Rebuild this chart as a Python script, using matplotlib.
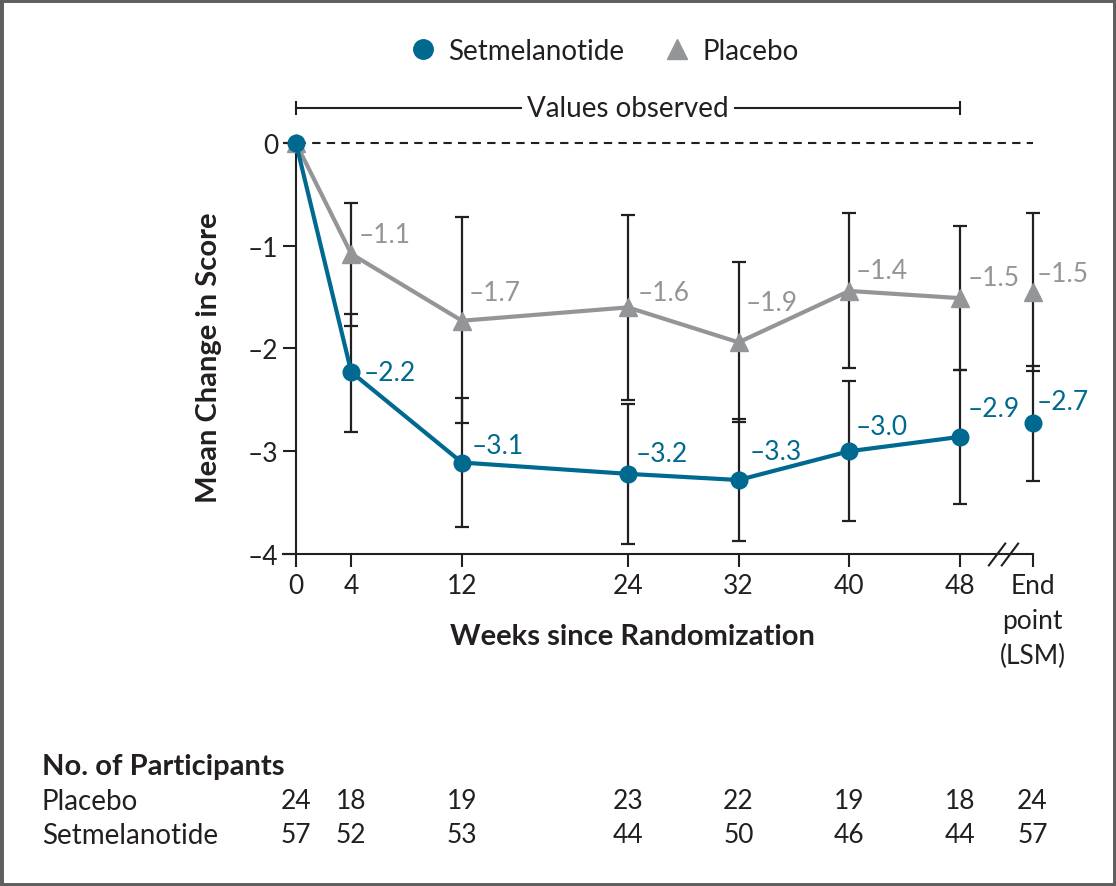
import matplotlib
matplotlib.use("Agg")
import matplotlib.pyplot as plt
import matplotlib.transforms as mtransforms
from matplotlib.lines import Line2D
from matplotlib.patches import Rectangle
from matplotlib.path import Path
import numpy as np

plt.rcParams['font.family'] = ['Lato', 'DejaVu Sans']

# Data
weeks = [0, 4, 12, 24, 32, 40, 48]
x_labels = ['0', '4', '12', '24', '32', '40', '48', 'End\npoint\n(LSM)']

placebo_mean = [0, -1.08, -1.73, -1.60, -1.94, -1.44, -1.51]
placebo_low = [np.nan, -1.78, -2.73, -2.50, -2.72, -2.19, -2.21]
placebo_high = [np.nan, -0.58, -0.72, -0.70, -1.16, -0.68, -0.81]
placebo_end = -1.45
placebo_end_low = -2.22
placebo_end_high = -0.68
placebo_labels = ['–1.1', '–1.7', '–1.6', '–1.9', '–1.4', '–1.5', '–1.5']

setmel_mean = [0, -2.23, -3.11, -3.22, -3.28, -3.00, -2.86]
setmel_low = [np.nan, -2.81, -3.74, -3.90, -3.87, -3.68, -3.51]
setmel_high = [np.nan, -1.66, -2.48, -2.54, -2.69, -2.32, -2.21]
setmel_end = -2.73
setmel_end_low = -3.29
setmel_end_high = -2.17
setmel_labels = ['–2.2', '–3.1', '–3.2', '–3.3', '–3.0', '–2.9', '–2.7']

n_placebo = [24, 18, 19, 23, 22, 19, 18, 24]
n_setmel = [57, 52, 53, 44, 50, 46, 44, 57]

# layout
end_x = 53.25
blue = '#00698F'
grey = '#939598'
dark = '#231F20'
fs = 19

# label offsets in pixels (dx, dy) for each labelled point (weeks 4..48, end)
placebo_off = [(7, 19), (7, 28), (10, 15), (7, 40), (6, 20), (8, 21), (4, 18)]
setmel_off = [(12, 0), (10, 17), (8, 20), (11, 29), (6, 25), (8, 28), (4, 22)]

fig = plt.figure(figsize=(11.16, 8.87), dpi=100)
ax = fig.add_axes([0.2404, 0.3743, 0.7189, 0.5213])
ax.set_xlim(-2, 56)
ax.set_ylim(-4, 0.5)

xs = weeks + [end_x]

def with_end(a, e):
    return np.array(a + [e], dtype=float)

p_mean = with_end(placebo_mean, placebo_end)
p_low = with_end(placebo_low, placebo_end_low)
p_high = with_end(placebo_high, placebo_end_high)
s_mean = with_end(setmel_mean, setmel_end)
s_low = with_end(setmel_low, setmel_end_low)
s_high = with_end(setmel_high, setmel_end_high)

# error bars
for m, lo, hi in [(p_mean, p_low, p_high), (s_mean, s_low, s_high)]:
    ok = ~np.isnan(lo)
    xx = np.array(xs)[ok]
    ax.errorbar(xx, m[ok], yerr=[m[ok] - lo[ok], hi[ok] - m[ok]], fmt='none',
                ecolor=dark, elinewidth=1.6, capsize=5, capthick=1.6, zorder=2)

# zero reference line
ax.plot([-0.94, end_x], [0, 0], color=dark, lw=1.5, ls=(0, (4, 3)), zorder=1)

# lines
ax.plot(weeks, placebo_mean, color=grey, lw=3, marker='^', ms=13, zorder=3)
ax.plot([end_x], [placebo_end], color=grey, marker='^', ms=13, zorder=3)
ax.plot(weeks, setmel_mean, color=blue, lw=3, marker='o', ms=12, zorder=4)
ax.plot([end_x], [setmel_end], color=blue, marker='o', ms=12, zorder=4)

# value labels
for x, y, t, (dx, dy) in zip(xs[1:], p_mean[1:], placebo_labels, placebo_off):
    ax.annotate(t, (x, y), xytext=(dx, dy), textcoords='offset pixels',
                ha='left', va='center', color=grey, fontsize=fs)
for x, y, t, (dx, dy) in zip(xs[1:], s_mean[1:], setmel_labels, setmel_off):
    ax.annotate(t, (x, y), xytext=(dx, dy), textcoords='offset pixels',
                ha='left', va='center', color=blue, fontsize=fs)

# "Values observed" bracket
yb = 0.34
ax.plot([0, 48], [yb, yb], color=dark, lw=1.5, clip_on=False)
ax.plot([0, 48], [yb, yb], ls='none', marker='|', ms=10, mew=1.5, color=dark, clip_on=False)
ax.text(24, yb, 'Values observed', ha='center', va='center', fontsize=fs + 1, color=dark,
        bbox=dict(facecolor='white', edgecolor='none', pad=4))

# axes styling
for s in ['top', 'right']:
    ax.spines[s].set_visible(False)
ax.spines['left'].set_position(('data', 0))
ax.spines['left'].set_bounds(-4, 0)
ax.spines['bottom'].set_bounds(-0.94, end_x)
for s in ['left', 'bottom']:
    ax.spines[s].set_color(dark)
    ax.spines[s].set_linewidth(1.5)

ax.set_yticks([0, -1, -2, -3, -4])
ax.set_yticklabels(['0', '–1', '–2', '–3', '–4'])
ax.set_xticks(xs)
ax.set_xticklabels(x_labels, linespacing=1.5)
ax.tick_params(axis='both', direction='out', length=9.5, width=1.5, color=dark,
               labelsize=fs, labelcolor=dark)
ax.tick_params(axis='x', pad=4)
ax.tick_params(axis='y', pad=3)

# axis break mark
brk = Path([(-1.3, -1), (0.2, 1), (-0.2, -1), (1.3, 1)],
           [Path.MOVETO, Path.LINETO, Path.MOVETO, Path.LINETO])
ax.plot([51.1], [-4], marker=brk, ms=22, mew=1.5, color=dark, ls='none', clip_on=False)

# axis titles
fig.text(209 / 1116, 1 - 358 / 887, 'Mean Change in Score', rotation=90, ha='center',
         va='center', fontsize=21, fontweight='bold', color=dark)
fig.text(632 / 1116, 1 - 637 / 887, 'Weeks since Randomization', ha='center',
         va='center', fontsize=21, fontweight='bold', color=dark)

# legend
handles = [Line2D([], [], color=blue, marker='o', ms=14, ls='none'),
           Line2D([], [], color=grey, marker='^', ms=14, ls='none')]
fig.legend(handles, ['Setmelanotide', 'Placebo'], loc='center',
           bbox_to_anchor=(604 / 1116, 1 - 52 / 887), ncol=2, frameon=False,
           fontsize=20, handlelength=1.0, handletextpad=0.4, columnspacing=1.4,
           labelcolor=dark)

# participants table
fig.text(42 / 1116, 1 - 767 / 887, 'No. of Participants', ha='left', va='center',
         fontsize=21, fontweight='bold', color=dark)
fig.text(42 / 1116, 1 - 802 / 887, 'Placebo', ha='left', va='center', fontsize=20, color=dark)
fig.text(42 / 1116, 1 - 836 / 887, 'Setmelanotide', ha='left', va='center', fontsize=20, color=dark)
trans = mtransforms.blended_transform_factory(ax.transData, fig.transFigure)
for x, a, b in zip(xs, n_placebo, n_setmel):
    ax.text(x, 1 - 802 / 887, str(a), transform=trans, ha='center', va='center',
            fontsize=fs, color=dark, clip_on=False)
    ax.text(x, 1 - 836 / 887, str(b), transform=trans, ha='center', va='center',
            fontsize=fs, color=dark, clip_on=False)

# frame
fig.patches.append(Rectangle((0, 0), 1, 1, transform=fig.transFigure, fill=False,
                             edgecolor='#5f5f5f', linewidth=5))

fig.savefig('out.png', dpi=100)
